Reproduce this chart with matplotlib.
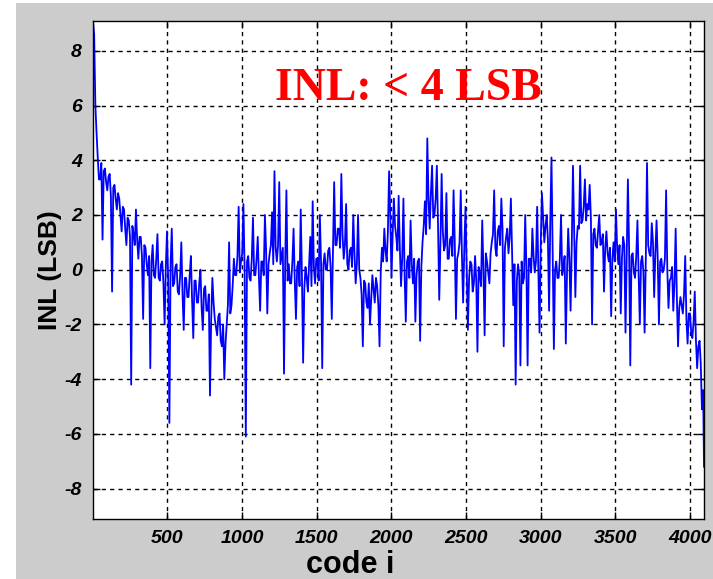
#coding: utf-8

import numpy as np
import matplotlib
matplotlib.use('Agg')
import matplotlib.pyplot as plt
from matplotlib.patches import Rectangle

plt.rcParams['axes.unicode_minus'] = False

# INL, one value every 8 codes (plus the last code)
codes = np.append(np.arange(1, 4096, 8), 4095)

inl = [
  # 1 .. 249
  9.1, 8.6, 6.0, 5.0, 4.1, 3.3, 3.3, 3.9, 1.1, 3.6, 3.7, 3.2, 2.9, 3.4, 3.5, 2.7,
  -0.8, 3.0, 3.1, 2.6, 2.2, 2.8, 2.6, 2.0, 1.4, 2.3, 2.2, 1.5, 0.9, 1.9, 1.8, 1.2,
  # 257 .. 505
  -4.2, 1.6, 1.3, 0.9, 2.2, 1.1, 0.4, 1.2, 1.2, 0.5, -1.8, 0.9, 0.8, 0.2, -0.2, 0.5,
  -3.6, 0.3, 0.9, -0.2, -0.3, 0.4, 1.3, -0.3, -0.4, 0.2, 0.3, -0.5, -2.0, 0.1, 1.4, -0.4,
  # 513 .. 761
  -5.6, 0.2, 1.5, -0.6, -0.5, 0.1, 0.2, -0.8, -0.9, -0.2, 1.0, -0.9, -2.2, -0.3, -0.3, -1.0,
  -1.0, -0.2, 0.5, -1.1, -2.5, -0.4, -0.4, -1.2, -1.2, -0.5, 0.0, -1.4, -2.2, -0.7, -0.6, -1.5,
  # 769 .. 1017
  -1.5, -0.9, -4.6, -1.8, -0.3, -1.2, -1.8, -2.1, -2.4, -1.7, -1.6, -2.6, -2.8, -2.0, -4.0, -2.7,
  -2.0, -1.3, 1.0, -1.6, -1.3, -0.6, 0.4, -0.2, -0.2, 0.5, 2.3, -0.1, 0.3, 0.6, 2.4, 0.0,
  # 1025 .. 1273
  -6.1, 0.3, 0.5, -0.3, -0.4, 0.4, 1.9, -0.2, -0.2, 0.4, 1.2, -0.3, -1.5, 0.3, 0.3, -0.2,
  2.0, 0.7, -1.6, 0.2, 0.6, 0.9, 2.1, 0.2, 3.6, 0.8, 0.3, 0.9, 3.2, 0.2, 0.5, 0.8,
  # 1281 .. 1529
  -3.8, 0.3, 2.9, -0.4, 0.2, -0.5, -0.5, 0.3, 1.5, -0.4, -1.8, 0.1, 0.3, -0.6, 2.2, -0.2,
  -3.4, -0.7, 0.1, -0.3, -0.8, 0.2, 1.2, -0.6, 2.5, 0.1, -0.5, 0.4, 0.4, -0.4, 2.0, 0.3,
  # 1537 .. 1785
  -3.6, 0.2, 0.6, 0.0, 0.0, 0.7, 0.8, 0.1, -1.8, 0.6, 3.2, 0.9, 0.9, 1.5, 1.5, 0.8,
  3.5, 1.3, 0.4, 0.9, 2.4, 0.2, 0.0, 0.7, 0.8, 0.1, 2.0, 0.6, -0.5, 0.2, 2.0, 0.0,
  # 1793 .. 2041
  -0.3, -0.9, -2.8, -0.4, -0.5, -1.2, -1.4, -0.5, -2.0, -1.1, -0.2, -0.7, -1.2, -0.3, -0.6, -1.3,
  -2.8, -0.1, 0.8, 0.3, 1.5, 0.7, 0.3, 1.4, 3.6, 2.0, -0.3, 1.3, 2.6, 1.6, 1.2, 0.7,
  # 2049 .. 2297
  2.7, 0.8, -0.6, 0.4, 2.6, -0.2, -1.9, 0.3, 0.5, -0.3, 1.8, 0.2, -0.5, 0.4, -1.9, -0.2,
  0.3, 0.4, -2.6, 0.1, 1.0, 1.6, 2.5, 1.3, 4.8, 2.6, 1.5, 2.8, 3.8, 1.9, 2.0, 2.6,
  # 2305 .. 2553
  3.8, 1.6, -1.1, 1.0, 3.5, 1.4, 0.7, 0.9, 2.8, 0.4, 0.4, 1.1, 1.2, 0.5, 2.9, 1.0,
  -1.8, 0.4, 0.6, 1.0, 2.9, 0.5, -1.2, 0.8, 2.3, 0.1, -2.2, -0.3, 0.3, 0.2, -0.8, -0.5,
  # 2561 .. 2809
  0.5, -0.4, -3.0, 0.1, -0.2, -0.6, 1.8, 0.0, -2.4, 0.6, 0.3, -0.1, -0.5, 0.6, 1.0, 1.3,
  2.9, 0.8, 0.5, 1.4, 1.6, 0.9, 2.6, 1.5, -2.8, 0.8, 1.2, 1.5, 0.6, 1.2, 2.6, 0.7,
  # 2817 .. 3065
  -1.3, 0.2, -4.2, -0.4, 0.2, -0.2, -3.5, 0.3, -0.5, -0.3, 2.0, 0.1, -3.5, 0.4, 0.4, -0.1,
  1.5, 0.5, -0.1, 0.3, 2.3, 0.1, -2.3, 0.9, 2.8, 1.9, 1.0, 1.6, 2.0, 1.1, -1.5, 1.8,
  # 3073 .. 3321
  4.1, 0.5, -2.9, 0.0, 0.3, -0.3, -0.3, 0.4, 2.0, -0.2, 0.1, 0.5, -2.7, -0.1, 1.5, 0.4,
  -1.5, 0.9, 3.8, 1.4, -1.0, 1.0, 1.6, 1.5, 3.8, 1.7, 1.8, 2.3, 3.3, 1.8, 2.4, 2.2,
  # 3329 .. 3577
  3.1, 1.9, -2.0, 1.3, 1.5, 0.9, 0.8, 1.4, 2.0, 0.9, 1.0, 1.3, -0.8, 0.8, 1.4, 0.6,
  0.3, 0.8, -1.7, 0.4, 1.0, 0.3, 2.2, 0.8, 0.2, 0.9, -1.6, 0.4, 1.2, 0.9, -2.3, 0.5,
  # 3585 .. 3833
  3.3, 0.8, -3.5, 0.5, 0.6, -0.1, -0.3, 0.5, 1.8, -0.2, -2.0, 0.3, 0.5, -0.1, -2.3, 0.4,
  3.9, 0.9, 0.6, 0.5, 1.7, 1.0, -1.0, 0.6, 1.8, 0.4, -2.0, 0.3, 0.4, -0.1, 0.0, 0.4,
  # 3841 .. 4089
  2.9, 0.0, -1.4, -0.4, -0.3, 0.1, -1.5, -0.5, 1.5, -1.0, -2.8, -1.4, -1.0, -1.3, -1.6, -0.9,
  0.5, -1.8, -2.7, -1.6, -1.6, -2.3, -2.5, -1.9, -0.8, -2.6, -3.6, -2.8, -2.6, -3.4, -5.1, -4.4,
  # 4095
  -7.2,
]

x_ticks = [500, 1000, 1500, 2000, 2500, 3000, 3500, 4000]
y_ticks = [-8, -6, -4, -2, 0, 2, 4, 6, 8]
note = 'INL: < 4 LSB'


def plotINL(codes, inl):
  fig = plt.figure(figsize=(7.13, 5.79), dpi=100, facecolor='white')
  # matlab grey window behind the axes
  fig.patches.append(Rectangle((16 / 713., 0), 1, 1 - 3 / 579., transform=fig.transFigure,
                               facecolor='#cccccc', edgecolor='none', zorder=-10))

  ax = fig.add_axes([0.1304, 0.1042, 0.857, 0.860])
  ax.set_facecolor('white')
  ax.plot(codes, inl, color='#0000ff', linewidth=1.3)

  ax.set_xlim(1, 4095)
  ax.set_ylim(-9.1, 9.1)
  ax.set_xticks(x_ticks)
  ax.set_yticks(y_ticks)
  ax.grid(True, color='black', linestyle=(0, (3, 3)), linewidth=1.0)
  ax.set_axisbelow(True)

  for s in ax.spines.values():
    s.set_linewidth(1.0)
    s.set_color('black')
  ax.tick_params(direction='in', length=5, width=1, top=True, right=True, pad=8)
  for lab in ax.get_xticklabels() + ax.get_yticklabels():
    lab.set_fontfamily('Liberation Sans')
    lab.set_fontweight('bold')
    lab.set_fontstyle('italic')
    lab.set_fontsize(14)

  ax.set_xlabel('code i', fontfamily='Liberation Sans', fontweight='bold', fontsize=22)
  ax.xaxis.set_label_coords((350 - 93) / 611., -0.062)
  ax.set_ylabel('INL (LSB)', fontfamily='Liberation Sans', fontweight='bold', fontsize=19, labelpad=2)

  fig.text(275 / 713., 1 - 100 / 579., note, color='red', fontfamily='Liberation Serif',
           fontweight='bold', fontsize=33, ha='left', va='baseline')

  fig.savefig('out.png', dpi=100, facecolor=fig.get_facecolor())


if __name__ == '__main__':
  plotINL(codes, inl)
